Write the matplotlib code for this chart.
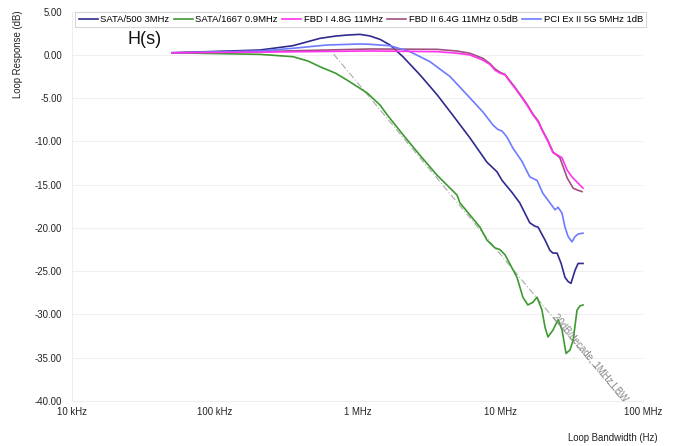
import matplotlib
matplotlib.use('Agg')
import matplotlib.pyplot as plt
from matplotlib.ticker import FixedLocator, NullLocator

plt.rcParams['font.family'] = ['Liberation Sans', 'DejaVu Sans']

# SATA/500 3MHz
sata500_f = [50.1e3, 207e3, 353e3, 546e3, 700e3, 844e3, 1.04e6, 1.22e6, 1.44e6, 1.69e6,
             2.08e6, 2.74e6, 3.61e6, 4.67e6, 6.14e6, 8.07e6, 9.48e6, 10.3e6, 12.1e6, 13.7e6,
             14.9e6, 16.1e6, 17.5e6, 18.4e6, 20.6e6, 22.3e6, 23.4e6, 25.0e6, 26.7e6, 28.4e6,
             29.9e6, 31.3e6, 33.4e6, 35.1e6, 38.0e6]
sata500_db = [0.25, 0.57, 1.07, 1.92, 2.18, 2.30, 2.38, 2.20, 1.80, 1.15,
              -0.20, -2.30, -4.60, -7.00, -9.60, -12.4, -13.5, -14.5, -15.9, -17.1,
              -18.3, -19.4, -19.8, -19.9, -21.4, -22.6, -22.9, -22.9, -24.1, -25.7,
              -26.2, -26.4, -24.9, -24.1, -24.1]

# SATA/1667 0.9MHz
sata1667_f = [50.1e3, 207e3, 353e3, 450e3, 546e3, 700e3, 844e3, 1.17e6, 1.44e6, 1.61e6,
              2.08e6, 2.74e6, 3.61e6, 4.98e6, 5.22e6, 7.21e6, 8.07e6, 9.18e6, 9.95e6, 10.8e6,
              13.1e6, 14.4e6, 15.6e6, 16.9e6, 18.1e6, 19.6e6, 20.6e6, 21.6e6, 23.4e6, 25.4e6,
              27.1e6, 28.9e6, 30.8e6, 32.4e6, 34.5e6, 36.2e6, 38.0e6]
sata1667_db = [0.25, 0.07, -0.20, -0.70, -1.36, -2.10, -2.90, -4.40, -5.80, -6.90,
               -9.20, -11.6, -13.9, -16.2, -17.1, -19.9, -21.4, -22.3, -22.5, -23.1,
               -25.7, -28.0, -28.9, -28.6, -28.0, -29.5, -31.5, -32.6, -31.8, -30.6,
               -31.8, -34.5, -34.1, -33.0, -29.5, -29.0, -28.9]

# FBD I 4.8G 11MHz
fbd1_f = [50.1e3, 300e3, 1.22e6, 3.61e6, 5.0e6, 6.14e6, 7.57e6, 8.47e6, 9.18e6, 9.95e6,
          10.8e6, 11.7e6, 12.7e6, 13.7e6, 15.4e6, 16.9e6, 18.4e6, 19.9e6, 21.6e6, 23.4e6,
          25.4e6, 27.1e6, 29.4e6, 31.8e6, 34.5e6, 38.0e6]
fbd1_db = [0.25, 0.35, 0.46, 0.38, 0.20, 0.00, -0.60, -1.10, -1.75, -2.10,
           -2.30, -3.10, -3.85, -4.60, -5.80, -6.90, -7.70, -8.90, -10.0, -11.3,
           -11.6, -11.9, -13.3, -14.1, -14.7, -15.4]

# FBD II 6.4G 11MHz 0.5dB
fbd2_f = [50.1e3, 300e3, 1.22e6, 3.61e6, 5.0e6, 6.14e6, 7.57e6, 8.47e6, 9.18e6, 9.95e6,
          10.8e6, 11.7e6, 12.7e6, 13.7e6, 15.4e6, 16.9e6, 18.4e6, 19.9e6, 21.6e6, 23.4e6,
          26.2e6, 29.4e6, 32.4e6, 34.5e6, 37.4e6]
fbd2_db = [0.25, 0.45, 0.69, 0.65, 0.45, 0.19, -0.40, -1.00, -1.60, -2.00,
           -2.25, -3.00, -3.75, -4.50, -5.70, -6.80, -7.60, -8.80, -9.90, -11.2,
           -11.9, -14.2, -15.4, -15.6, -15.8]

# PCI Ex II 5G 5MHz 1dB
pci_f = [50.1e3, 207e3, 353e3, 611e3, 1.04e6, 1.22e6, 1.69e6, 2.33e6, 3.22e6, 4.45e6,
         5.85e6, 7.57e6, 8.89e6, 9.6e6, 10.3e6, 11.1e6, 12.3e6, 14.2e6, 16.1e6, 18.1e6,
         19.9e6, 22.3e6, 24.2e6, 25.4e6, 27.1e6, 28.4e6, 29.9e6, 31.8e6, 33.4e6, 35.1e6,
         38.0e6]
pci_db = [0.25, 0.45, 0.77, 1.15, 1.27, 1.23, 1.07, 0.38, -0.78, -2.50,
          -4.60, -6.60, -8.10, -8.60, -8.80, -9.45, -10.8, -12.3, -14.1, -14.5,
          -16.0, -17.1, -17.9, -17.6, -18.3, -19.9, -21.0, -21.6, -21.0, -20.7,
          -20.6]

# 20dB/decade reference line
ref_f = [0.68e6, 72e6]
ref_db = [0.1, -40.0]

xticks = [1e4, 1e5, 1e6, 1e7, 1e8]
xlabels = ['10 kHz', '100 kHz', '1 MHz', '10 MHz', '100 MHz']
yticks = [5, 0, -5, -10, -15, -20, -25, -30, -35, -40]

fig = plt.figure(figsize=(6.79, 4.46), dpi=100)
ax = fig.add_axes([72 / 679, 45 / 446, 571 / 679, 389.3 / 446])

ax.plot(ref_f, ref_db, color='#AAAAAA', lw=0.8, ls=(0, (6, 2, 1, 2)), zorder=1)
ax.plot(sata500_f, sata500_db, color='#2F2A8E', lw=1.2, label='SATA/500 3MHz', zorder=3)
ax.plot(sata1667_f, sata1667_db, color='#3C9A30', lw=1.2, label='SATA/1667 0.9MHz', zorder=3)
ax.plot(fbd1_f, fbd1_db, color='#FF33EE', lw=1.2, label='FBD I 4.8G 11MHz', zorder=4)
ax.plot(fbd2_f, fbd2_db, color='#A0507F', lw=1.2, label='FBD II 6.4G 11MHz 0.5dB', zorder=3)
ax.plot(pci_f, pci_db, color='#6D7BFF', lw=1.2, label='PCI Ex II 5G 5MHz 1dB', zorder=3)

ax.set_xscale('log')
ax.set_xlim(1e4, 1e8)
ax.set_ylim(-40, 5)
ax.xaxis.set_major_locator(FixedLocator(xticks))
ax.xaxis.set_minor_locator(NullLocator())
ax.set_xticklabels(xlabels)
ax.set_yticks(yticks)
ax.set_yticklabels(['%.2f' % v for v in yticks])
ax.tick_params(axis='both', length=0, labelsize=6.9, colors='#222222')
ax.tick_params(axis='y', pad=7)
ax.tick_params(axis='x', pad=4)

ax.grid(axis='y', color='#F0F0F0', lw=0.8)
ax.set_axisbelow(True)
for s in ['top', 'right']:
    ax.spines[s].set_visible(False)
for s in ['left', 'bottom']:
    ax.spines[s].set_color('#EEEEEE')
    ax.spines[s].set_linewidth(0.8)

leg = ax.legend(loc='upper left', bbox_to_anchor=(0.006, 1.0), ncol=5, fontsize=6.8,
                frameon=True, fancybox=False, edgecolor='#CCCCCC', handlelength=2.0,
                handletextpad=0.25, columnspacing=0.5, borderpad=0.35, borderaxespad=0)
leg.get_frame().set_linewidth(0.8)

fig.text(145 / 679, 1 - 39.5 / 446, 'H(s)', fontsize=13, ha='center', va='center', color='#111111')

ax.text(42.5e6, -35.0, '20dB/decade, 1MHz LBW', fontsize=7, color='#888888',
        rotation=-50, ha='center', va='center', rotation_mode='anchor')

fig.text(18 / 679, 1 - 10 / 446, 'Loop Response (dB)', rotation=90, ha='center', va='top',
         fontsize=6.9, color='#222222')
fig.text(658 / 679, 1 - 438 / 446, 'Loop Bandwidth (Hz)', ha='right', va='center',
         fontsize=6.9, color='#222222')

fig.savefig('out.png', dpi=100)
